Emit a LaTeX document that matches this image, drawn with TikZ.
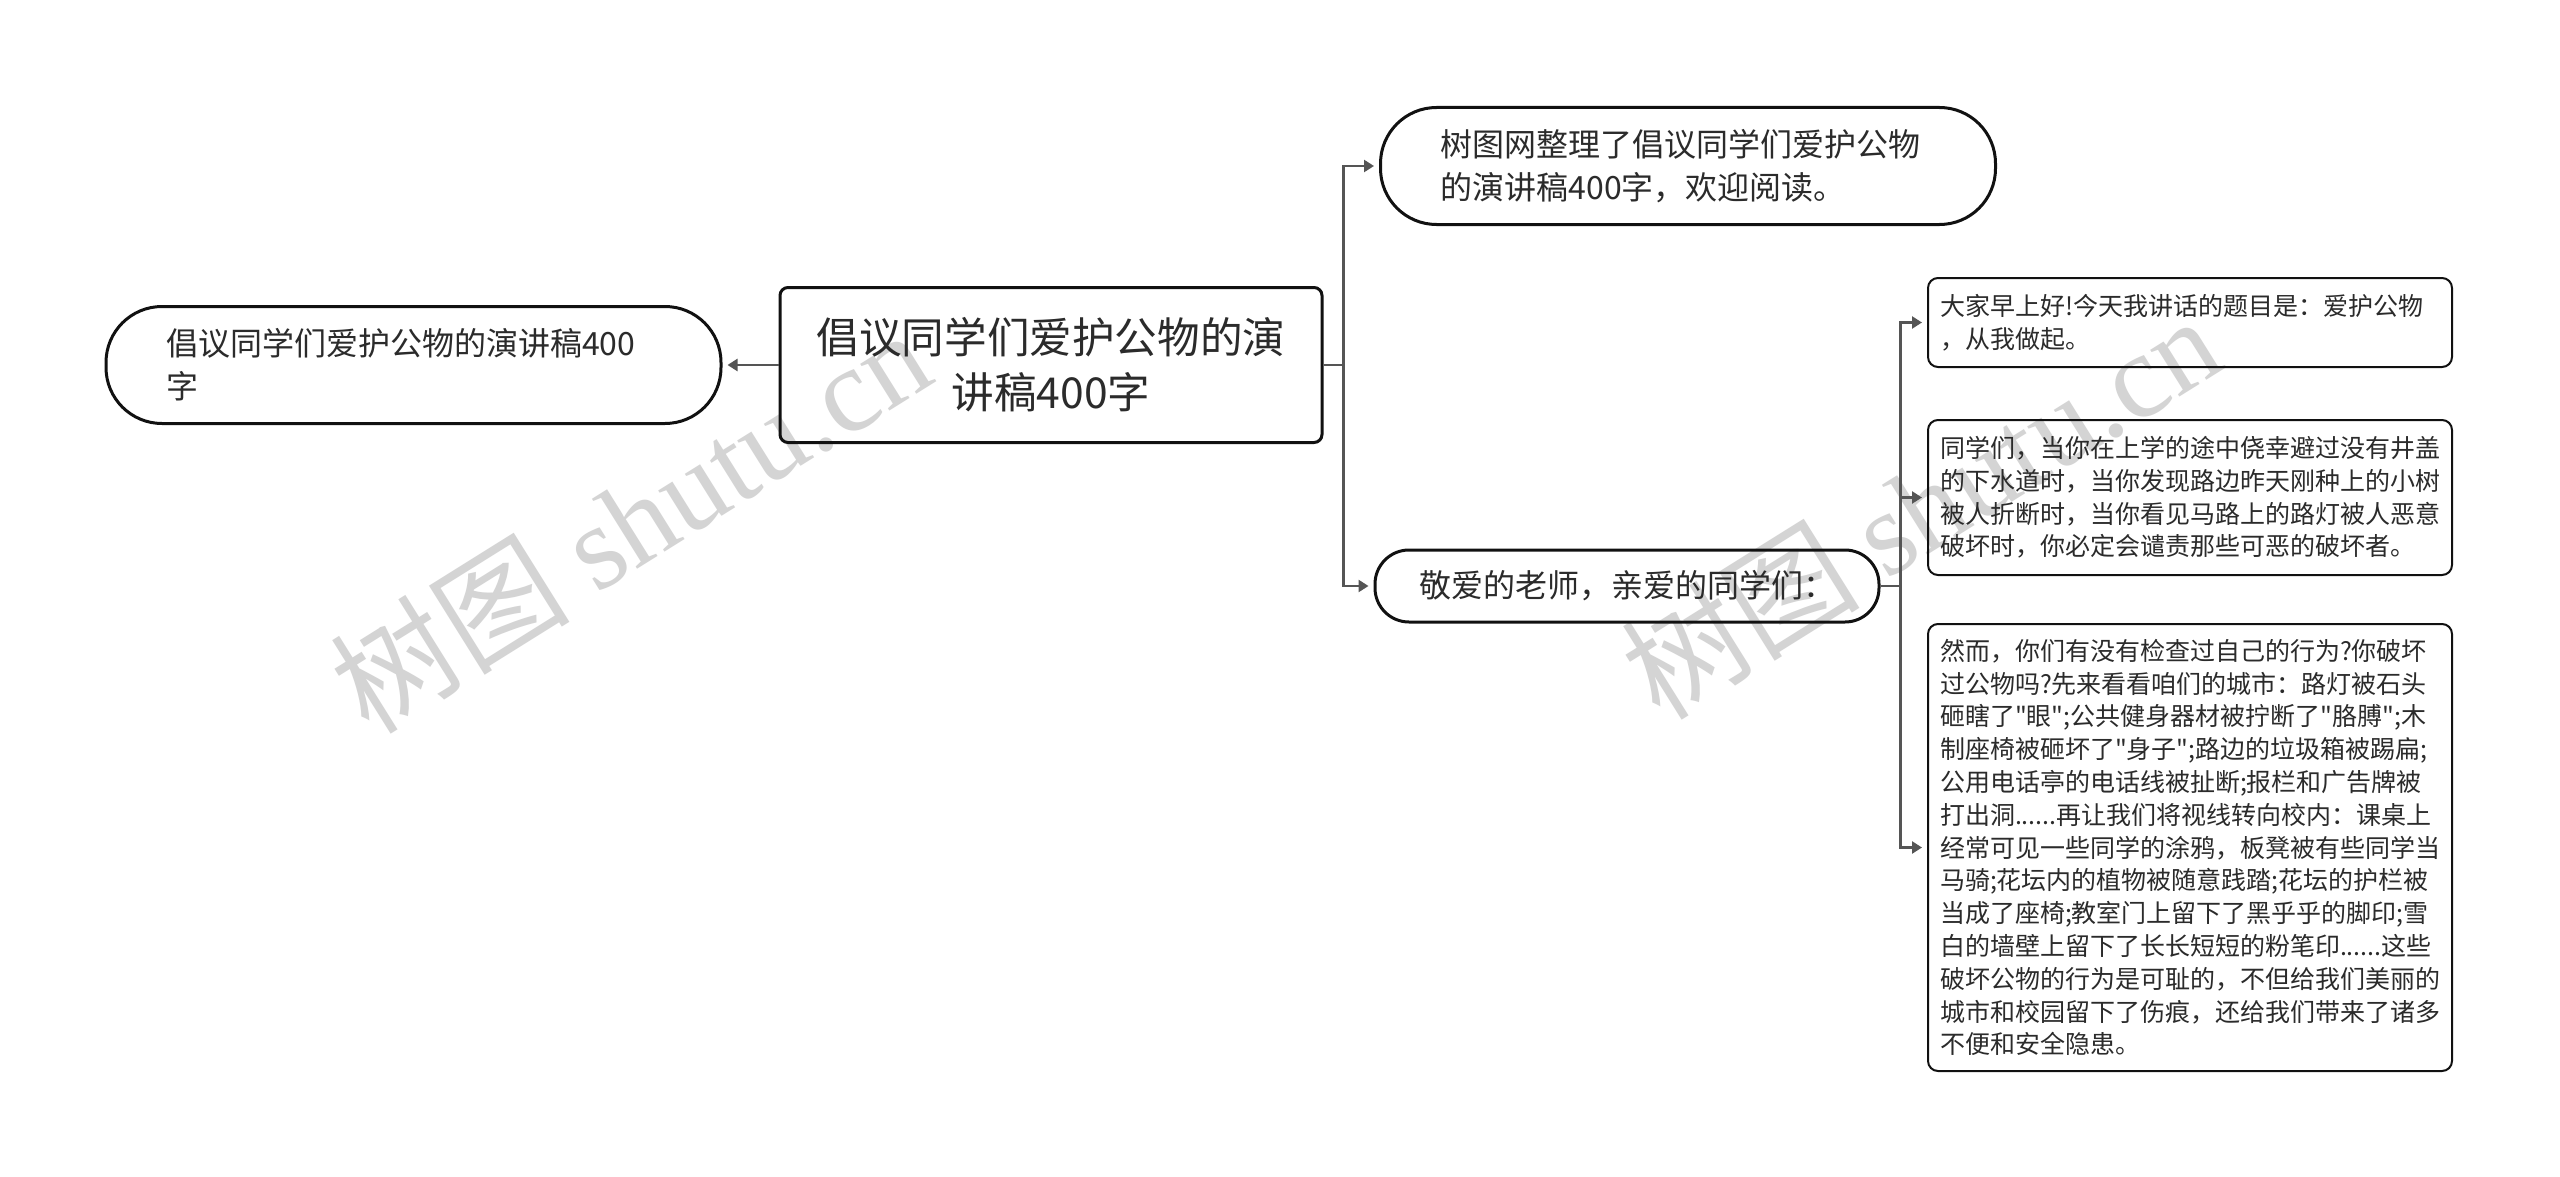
\documentclass[tikz,border=0pt]{standalone}
\usepackage{fontspec}
\setmainfont{Noto Sans CJK SC}[Ligatures=TeXOff]
\newfontfamily\wmfont{Liberation Serif}
\usetikzlibrary{arrows.meta,positioning}
\definecolor{cLine} {HTML}{111111}
\definecolor{cLink} {HTML}{555555}
\definecolor{cText} {HTML}{2B2B2B}
\definecolor{cMark} {HTML}{D4D4D4}

\begin{document}
\begin{tikzpicture}[
  x=0.5pt, y=-0.5pt,
  rootbox/.style={
    draw=cLine, line width=1.5pt, rounded corners=4pt, text=cText,
    align=center, minimum width=271pt, minimum height=77.5pt,
    font=\fontsize{21.3}{27.5}\selectfont},
  pill/.style ={draw=cLine, line width=1.5pt, rounded corners=28pt, text=cText,
    font=\fontsize{16}{21.5}\selectfont},
  pillw/.style={pill, align=left, text width=247.5pt, inner xsep=30pt, minimum height=58.5pt},
  leaf/.style ={draw=cLine, line width=1pt, rounded corners=5pt, text=cText,
    align=left, text width=250pt, inner xsep=6pt,
    font=\fontsize{12.5}{16.4}\selectfont},
  ar/.style   ={-{Triangle[length=5pt,width=6pt]}, draw=cLink, line width=1.2pt, shorten >=2.5pt},
  wmark/.style={text=cMark, rotate=32, font=\fontsize{60}{60}\selectfont},
]

\path[fill=white] (0,0) rectangle (2560,1177);

% ---------------------------------------------------------------- watermark
\node[wmark] (wm1) at (630,520)  {树图 {\wmfont shutu.cn}};
\node[wmark] (wm2) at (1920,506) {树图 {\wmfont shutu.cn}};

% ---------------------------------------------------------------- root
\node[rootbox] (root) at (1051,365) {倡议同学们爱护公物的演\\讲稿400字};

\node[pillw, left=28pt of root] (topic) {倡议同学们爱护公物的演讲稿400\\字};

% ---------------------------------------------------------------- right branch
\node[pillw] (intro) at (1688,166) {树图网整理了倡议同学们爱护公物\\的演讲稿400字，欢迎阅读。};
\node[pill, rounded corners=17pt, inner xsep=22pt, minimum height=36pt] (greet) at (1627,586)
  {敬爱的老师，亲爱的同学们：};

% ---------------------------------------------------------------- speech
\node[leaf, minimum height=44.5pt] (sa) at (2190,322.5)
  {大家早上好!今天我讲话的题目是：爱护公物\\，从我做起。};
\node[leaf, minimum height=77.5pt] (sb) at (2190,497.5)
  {同学们，当你在上学的途中侥幸避过没有井盖\\
   的下水道时，当你发现路边昨天刚种上的小树\\
   被人折断时，当你看见马路上的路灯被人恶意\\
   破坏时，你必定会谴责那些可恶的破坏者。};
\node[leaf, minimum height=223.5pt] (sc) at (2190,847.5)
  {然而，你们有没有检查过自己的行为?你破坏\\
   过公物吗?先来看看咱们的城市：路灯被石头\\
   砸瞎了"眼";公共健身器材被拧断了"胳膊";木\\
   制座椅被砸坏了"身子";路边的垃圾箱被踢扁;\\
   公用电话亭的电话线被扯断;报栏和广告牌被\\
   打出洞......再让我们将视线转向校内：课桌上\\
   经常可见一些同学的涂鸦，板凳被有些同学当\\
   马骑;花坛内的植物被随意践踏;花坛的护栏被\\
   当成了座椅;教室门上留下了黑乎乎的脚印;雪\\
   白的墙壁上留下了长长短短的粉笔印......这些\\
   破坏公物的行为是可耻的，不但给我们美丽的\\
   城市和校园留下了伤痕，还给我们带来了诸多\\
   不便和安全隐患。};

% ---------------------------------------------------------------- arrows
\draw[ar] (root.west) -- (topic.east);
\draw[ar] (root.east) -- ++(10pt,0) |- (intro.west);
\draw[ar] (root.east) -- ++(10pt,0) |- (greet.west);

\draw[ar] (greet.east) -- ++(10pt,0) |- (sa.west);
\draw[ar] (greet.east) -- ++(10pt,0) |- (sb.west);
\draw[ar] (greet.east) -- ++(10pt,0) |- (sc.west);

\end{tikzpicture}
\end{document}
